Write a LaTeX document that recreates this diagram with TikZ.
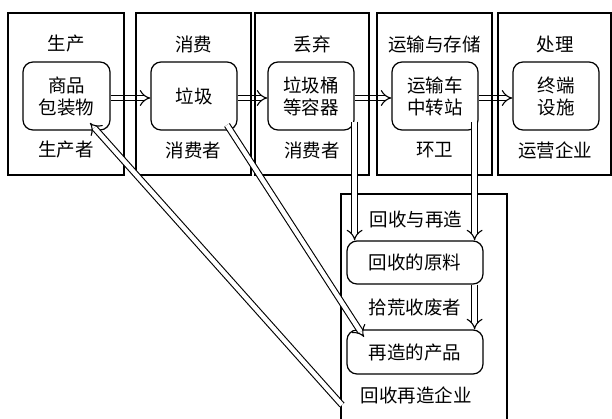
\documentclass[tikz,border=0pt]{standalone}
\usepackage{fontspec}
\setmainfont{Noto Sans CJK SC}
\usetikzlibrary{arrows.meta,calc}
\pgfdeclarelayer{bg}
\pgfsetlayers{bg,main}
\tikzset{
  outer/.style={draw, line width=1.2pt, inner sep=0pt},
  inner/.style={draw, line width=1.2pt, rounded corners=10pt, align=center, inner sep=0pt,
    font=\fontsize{18.5}{22}\selectfont},
  txt/.style={inner sep=0pt, font=\fontsize{18.5}{22}\selectfont},
  dbl/.style={double, double distance=4.5pt, line width=1.1pt, -{Implies[scale=1.7]}}
}
\begin{document}
\begin{tikzpicture}[x=1pt,y=-1pt]
\clip (0,0) rectangle (612,418);
% outer boxes
\node[outer, minimum width=116pt, minimum height=162pt] (b1) at (66,94) {};
\node[outer, minimum width=115pt, minimum height=162pt] (b2) at (193.5,94) {};
\node[outer, minimum width=114pt, minimum height=162pt] (b3) at (312,94) {};
\node[outer, minimum width=115pt, minimum height=162pt] (b4) at (434.5,94) {};
\node[outer, minimum width=113pt, minimum height=162pt] (b5) at (554.5,94) {};
\node[outer, minimum width=166pt, minimum height=240pt] (b6) at (424,314) {};
% titles
\node[txt] (t1) at (66,44) {生产};
\node[txt] (t2) at (193.5,44) {消费};
\node[txt] (t3) at (312,44) {丢弃};
\node[txt] (t4) at (434.5,44) {运输与存储};
\node[txt] (t5) at (555,44) {处理};
% bottom labels
\node[txt] (l1) at (66,150) {生产者};
\node[txt] (l2) at (193.5,150) {消费者};
\node[txt] (l3) at (312,150) {消费者};
\node[txt] (l4) at (434.5,150) {环卫};
\node[txt] (l5) at (555,150) {运营企业};
% inner boxes
\node[inner, minimum width=87pt, minimum height=68pt] (in1) at (66.5,96) {商品\\包装物};
\node[inner, minimum width=86pt, minimum height=68pt] (in2) at (194,96) {垃圾};
\node[inner, minimum width=86pt, minimum height=68pt] (in3) at (311,96) {垃圾桶\\等容器};
\node[inner, minimum width=86pt, minimum height=68pt] (in4) at (435,96) {运输车\\中转站};
\node[inner, minimum width=86pt, minimum height=68pt] (in5) at (556,96) {终端\\设施};
% recycling box
\node[txt] (t6) at (416,219) {回收与再造};
\node[inner, minimum width=136pt, minimum height=43pt] (rec) at (415,262.5) {回收的原料};
\node[txt] (l6) at (415,307) {拾荒收废者};
\node[inner, minimum width=136pt, minimum height=44pt] (prod) at (415,352) {再造的产品};
\node[txt] (l7) at (416,395) {回收再造企业};
% horizontal arrows (behind boxes)
\begin{pgfonlayer}{bg}
\fill[white] (0,0) rectangle (612,418);
\draw[dbl] ([yshift=-2pt]in1.east) -- ([yshift=-2pt]in2.west);
\draw[dbl] ([yshift=-2pt]in2.east) -- ([yshift=-2pt]in3.west);
\draw[dbl] ([yshift=-2pt]in3.east) -- ([yshift=-2pt]in4.west);
\draw[dbl] ([yshift=-2pt]in4.east) -- ([yshift=-2pt]in5.west);
\end{pgfonlayer}
% vertical arrows
\coordinate (v1s) at ([yshift=9pt]in3.south east);
\coordinate (v2s) at ([xshift=-4pt,yshift=9pt]in4.south east);
\draw[dbl] (v1s) -- (v1s |- rec.north);
\draw[dbl] (v2s) -- (v2s |- rec.north);
\draw[dbl] (v2s |- rec.south) -- (v2s |- prod.north);
% diagonal arrows
\coordinate (d1s) at (342,405);
\coordinate (d1e) at (90,123);
\coordinate (d2s) at (227,125);
\coordinate (d2e) at (364,337);
\draw[dbl] (d1s) -- (d1e);
\draw[dbl] (d2s) -- (d2e);
\end{tikzpicture}
\end{document}
